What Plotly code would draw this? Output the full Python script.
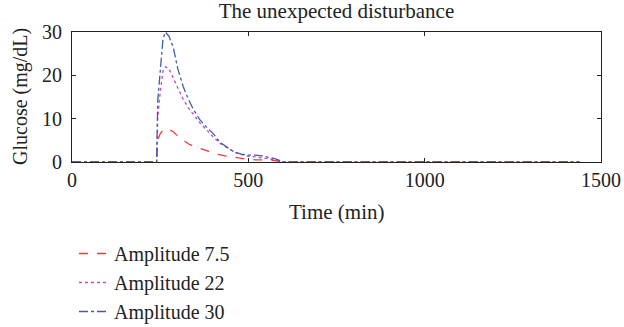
import plotly.graph_objects as go

# Data
time_min = [0, 238, 240, 243, 250, 258, 265, 275, 287, 300, 315, 330, 345, 363, 382,
            400, 420, 440, 460, 480, 500, 520, 540, 560, 575, 590, 600, 1440]
amp_7_5 = [0, 0, 0, 5.0, 6.5, 7.4, 7.7, 7.5, 7.0, 6.0, 5.0, 4.2, 3.6, 3.2, 2.6,
           2.0, 1.6, 1.3, 1.1, 0.8, 0.6, 0.5, 0.5, 0.5, 0.3, 0.1, 0, 0]
amp_22 = [0, 0, 0, 10.0, 16.0, 21.0, 22.0, 21.5, 19.5, 17.0, 14.5, 12.5, 11.0, 9.0, 7.4,
          5.8, 4.3, 3.2, 2.3, 1.7, 1.3, 1.2, 1.0, 0.8, 0.5, 0.2, 0, 0]
amp_30 = [0, 0, 0, 14.0, 21.0, 28.5, 30.0, 29.0, 26.5, 21.5, 17.5, 14.5, 12.0, 9.7, 8.0,
          6.6, 4.5, 3.3, 2.3, 1.8, 1.6, 1.6, 1.4, 1.0, 0.8, 0.3, 0, 0]
series_names = ["Amplitude 7.5", "Amplitude 22", "Amplitude 30"]
x_ticks = [0, 500, 1000, 1500]
y_ticks = [0, 10, 20, 30]

FONT = "Liberation Serif"
W, H = 624, 327
L, R, T, B = 72, 23, 32, 165
fig = go.Figure()
styles = [("#ee3a3a", "dash"), ("#c048c8", "dot"), ("#3d5cb0", "dashdot")]
for name, ys, (col, dash) in zip(series_names, [amp_7_5, amp_22, amp_30], styles):
    fig.add_trace(go.Scatter(x=time_min, y=ys, mode="lines", name=name,
                             line=dict(color=col, dash=dash, width=1.3)))

axis_common = dict(showgrid=False, zeroline=False, showline=True, linecolor="#222",
                   linewidth=1, mirror="ticks", ticks="inside", ticklen=4,
                   tickcolor="#222", automargin=False,
                   tickfont=dict(family=FONT, size=20, color="#222"))
fig.update_xaxes(range=[0, 1500], tickvals=x_ticks, **axis_common)
fig.update_yaxes(range=[0, 30], tickvals=y_ticks, ticklabelstandoff=5, **axis_common)

ph = H - T - B
pw = W - L - R
fig.update_layout(
    width=W, height=H,
    margin=dict(l=L, r=R, t=T, b=B, autoexpand=False),
    paper_bgcolor="white", plot_bgcolor="white",
    font=dict(family=FONT, size=20, color="#222"),
    title=dict(text="The unexpected disturbance", x=0.5, xref="paper",
               y=1 - 11 / H, yref="container", yanchor="middle",
               font=dict(family=FONT, size=21, color="#222")),
    showlegend=True,
    legend=dict(xref="container", yref="container", x=74 / W, xanchor="left",
                y=1 - 234 / H, yanchor="top",
                font=dict(family=FONT, size=20, color="#222"),
                bgcolor="rgba(0,0,0,0)", itemwidth=30),
    annotations=[
        dict(text="Time (min)", xref="paper", yref="paper", x=0.5,
             y=(ph - (212 - T)) / ph, yanchor="middle", showarrow=False,
             font=dict(family=FONT, size=21, color="#222")),
        dict(text="Glucose (mg/dL)", xref="paper", yref="paper",
             x=(20 - L) / pw, xanchor="center", y=0.5, yanchor="middle",
             textangle=-90, showarrow=False,
             font=dict(family=FONT, size=20, color="#222")),
    ],
)
fig.write_html("out.html")
